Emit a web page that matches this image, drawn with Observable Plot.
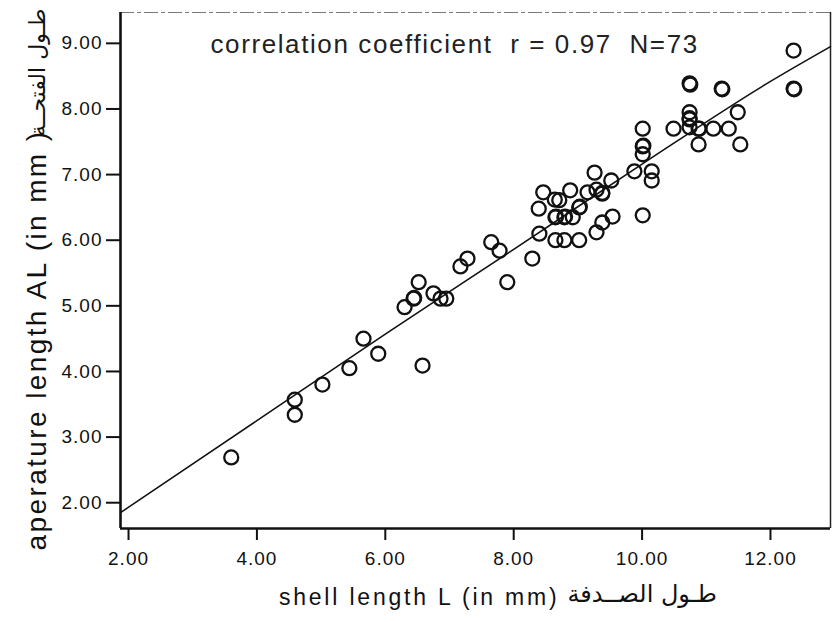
<!DOCTYPE html>
<html>
<head>
<meta charset="utf-8">
<script src="https://cdn.jsdelivr.net/npm/d3@7"></script>
<script src="https://cdn.jsdelivr.net/npm/@observablehq/plot@0.6"></script>
<style>
  html, body { margin: 0; padding: 0; background: #fff; }
  #chart { width: 833px; height: 622px; overflow: hidden; }
</style>
</head>
<body>
<div id="chart"></div>
<script>
// Shell length L (mm)
const shellLength = [
  3.60, 4.59, 4.59, 5.02, 5.44, 5.66, 5.89, 6.30, 6.44, 6.52,
  6.58, 6.75, 6.86, 6.95, 7.17, 7.28, 7.65, 7.78, 7.90, 8.29,
  8.40, 8.39, 8.46, 8.64, 8.71, 8.88, 8.65, 8.79, 8.92, 8.65,
  8.79, 9.02, 9.02, 9.15, 9.26, 9.29, 9.38, 9.52, 9.29, 9.38,
  9.54, 9.88, 10.01, 10.01, 10.01, 10.15, 10.15, 10.01, 10.49, 10.74,
  10.74, 10.74, 10.74, 10.88, 10.88, 11.11, 11.24, 11.35, 11.49, 11.53,
  12.36, 12.36, 10.75, 11.25, 12.37, 8.80, 8.66, 10.74, 10.89, 10.02,
  9.03, 9.38, 6.45
];
// Aperture length AL (mm)
const apertureLength = [
  2.69, 3.57, 3.34, 3.80, 4.05, 4.50, 4.27, 4.98, 5.11, 5.36,
  4.09, 5.19, 5.11, 5.11, 5.60, 5.72, 5.97, 5.84, 5.36, 5.72,
  6.10, 6.48, 6.73, 6.62, 6.61, 6.76, 6.35, 6.35, 6.35, 6.00,
  6.00, 6.00, 6.50, 6.73, 7.03, 6.77, 6.71, 6.91, 6.12, 6.27,
  6.36, 7.05, 7.70, 7.43, 7.31, 7.05, 6.91, 6.38, 7.70, 8.39,
  7.95, 7.84, 7.72, 7.70, 7.46, 7.70, 8.31, 7.70, 7.95, 7.46,
  8.89, 8.31, 8.37, 8.30, 8.30, 6.36, 6.36, 7.86, 7.70, 7.44,
  6.51, 6.72, 5.12
];
// Fitted line
const fitX = [1.875, 4, 6, 8, 10, 12, 12.935];
const fitY = [1.85, 3.25, 4.57, 5.86, 7.16, 8.42, 8.95];

const xDomain = [1.875, 12.935];
const yDomain = [1.607, 9.47];
const xTicks = [2, 4, 6, 8, 10, 12];
const yTicks = [2, 3, 4, 5, 6, 7, 8, 9];

const annotationText = "correlation coefficient  r = 0.97  N=73";
const xLabelLatin = "shell length L (in mm)";
const xLabelArabic = "طـول الصــدفة";
const yLabelLatin = "aperature length AL (in mm )";
const yLabelArabic = "طـول الفتحــة";

const points = shellLength.map((x, i) => ({x, y: apertureLength[i]}));
const fit = fitX.map((x, i) => ({x, y: fitY[i]}));
const fmt = d3.format(".2f");

const chart = Plot.plot({
  width: 833,
  height: 622,
  marginLeft: 120,
  marginRight: 3,
  marginTop: 12,
  marginBottom: 94,
  style: {fontFamily: "'Liberation Sans', Arial, sans-serif", background: "#fff", color: "#111", overflow: "visible"},
  x: {domain: xDomain},
  y: {domain: yDomain},
  marks: [
    Plot.ruleY([yDomain[1]], {stroke: "#777", strokeWidth: 1.2, strokeDasharray: "14,3,4,3"}),
    Plot.ruleX([xDomain[1]], {stroke: "#222", strokeWidth: 1.5}),
    Plot.axisX({ticks: xTicks, tickFormat: fmt, tickSize: 12, tickPadding: 11, fontSize: 19, strokeWidth: 2, label: null}),
    Plot.axisY({ticks: yTicks, tickFormat: fmt, tickSize: 14, tickPadding: 4, fontSize: 19, strokeWidth: 2, label: null}),
    Plot.ruleX([xDomain[0]], {stroke: "#111", strokeWidth: 2.6}),
    Plot.ruleY([yDomain[0]], {stroke: "#111", strokeWidth: 2.6}),
    Plot.line(fit, {x: "x", y: "y", stroke: "#111", strokeWidth: 1.6, curve: "monotone-x"}),
    Plot.dot(points, {x: "x", y: "y", r: 7, stroke: "#111", strokeWidth: 2.3, fill: "none"}),
    Plot.text([annotationText], {frameAnchor: "top-left", dx: 90, dy: 40, text: d => d, textAnchor: "start", lineAnchor: "bottom", fontSize: 26, fill: "#222"}),
    Plot.text([xLabelLatin], {frameAnchor: "bottom", dx: 84, dy: 76, text: d => d, textAnchor: "end", lineAnchor: "bottom", fontSize: 23, fill: "#111"}),
    Plot.text([xLabelArabic], {frameAnchor: "bottom", dx: 92, dy: 73, text: d => d, textAnchor: "start", lineAnchor: "bottom", fontSize: 24, fill: "#111", fontFamily: "'DejaVu Sans', sans-serif"}),
    Plot.text([yLabelLatin], {frameAnchor: "left", dx: -75, dy: 280, rotate: -90, text: d => d, textAnchor: "start", lineAnchor: "bottom", fontSize: 28, fill: "#111"}),
    Plot.text([yLabelArabic], {frameAnchor: "left", dx: -76, dy: -262, rotate: -90, text: d => d, textAnchor: "end", lineAnchor: "bottom", fontSize: 22, fill: "#111", fontFamily: "'DejaVu Sans', sans-serif"})
  ]
});

// letter spacing to match the wide scanned lettering (Latin text only)
const spacing = new Map([
  [annotationText, "1.6px"],
  [xLabelLatin, "2.8px"],
  [yLabelLatin, "2.4px"]
]);
const tickLabels = new Set([...xTicks, ...yTicks].map(fmt));
d3.select(chart).selectAll("text").each(function() {
  const t = this.textContent;
  if (spacing.has(t)) this.style.letterSpacing = spacing.get(t);
  if (tickLabels.has(t)) this.style.letterSpacing = "1px";
});

document.getElementById("chart").appendChild(chart);
</script>
</body>
</html>
